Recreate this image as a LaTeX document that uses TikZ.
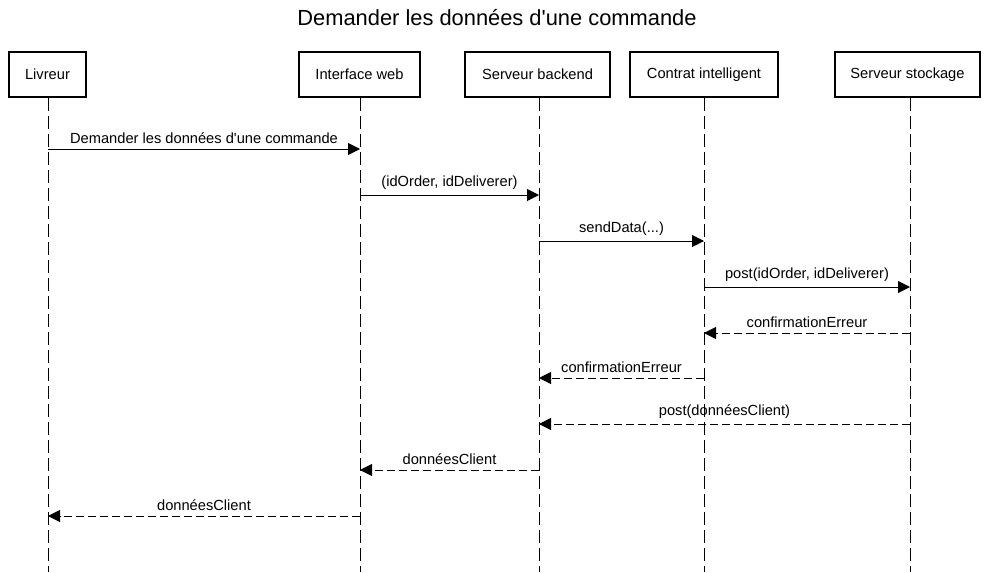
\documentclass[tikz,border=0pt]{standalone}
\usepackage{fontspec}
\setmainfont{Liberation Sans}
\usetikzlibrary{arrows.meta}
\begin{document}
\begin{tikzpicture}[x=0.75pt,y=-0.75pt,
  actor/.style={draw,line width=1.5pt,minimum height=33.75pt,inner sep=0pt,font=\fontsize{11}{13}\selectfont},
  life/.style={line width=0.75pt,dash pattern=on 9.5pt off 4pt},
  msg/.style={line width=0.75pt,-{Triangle[length=9pt,width=9pt]}},
  ret/.style={msg,dash pattern=on 6pt off 3pt},
  lbl/.style={above,inner sep=0pt,yshift=3.5pt,font=\fontsize{11}{13}\selectfont}]
\useasboundingbox (0,0) rectangle (993,572);
\node[font=\fontsize{16.4}{19}\selectfont] (title) at (497,18) {Demander les données d\textquotesingle une commande};
\node[actor,minimum width=57.75pt] (liv) at (47.5,74.5) {Livreur};
\node[actor,minimum width=90.75pt] (web) at (359.5,74.5) {Interface web};
\node[actor,minimum width=108.75pt] (back) at (537.5,74.5) {Serveur backend};
\node[actor,minimum width=111pt] (sc) at (704,74.5) {Contrat intelligent};
\node[actor,minimum width=108.75pt] (sto) at (907.5,74.5) {Serveur stockage};
\coordinate (livE) at (48,572);
\coordinate (webE) at (360,572);
\coordinate (backE) at (539,572);
\coordinate (scE) at (704,572);
\coordinate (stoE) at (910,572);
\draw[life] (liv.south -| livE) -- (livE);
\draw[life] (web.south -| webE) -- (webE);
\draw[life] (back.south -| backE) -- (backE);
\draw[life] (sc.south -| scE) -- (scE);
\draw[life] (sto.south -| stoE) -- (stoE);
% message anchor points
\foreach \n/\x in {liv/48,web/360,back/539,sc/704,sto/910}{
  \foreach \i/\y in {1/149,2/195,3/241,4/287,5/333,6/378,7/424,8/470,9/516}{
    \coordinate (\n\i) at (\x,\y);
  }
}
\draw[msg] (liv1) -- node[lbl] {Demander les données d\textquotesingle une commande} (web1);
\draw[msg] (web2) -- node[lbl] {(idOrder, idDeliverer)} (back2);
\draw[msg] (back3) -- node[lbl] {sendData(...)} (sc3);
\draw[msg] (sc4) -- node[lbl] {post(idOrder, idDeliverer)} (sto4);
\draw[ret] (sto5) -- node[lbl] {confirmationErreur} (sc5);
\draw[ret] (sc6) -- node[lbl] {confirmationErreur} (back6);
\draw[ret] (sto7) -- node[lbl] {post(donnéesClient)} (back7);
\draw[ret] (back8) -- node[lbl] {donnéesClient} (web8);
\draw[ret] (web9) -- node[lbl] {donnéesClient} (liv9);
\end{tikzpicture}
\end{document}
